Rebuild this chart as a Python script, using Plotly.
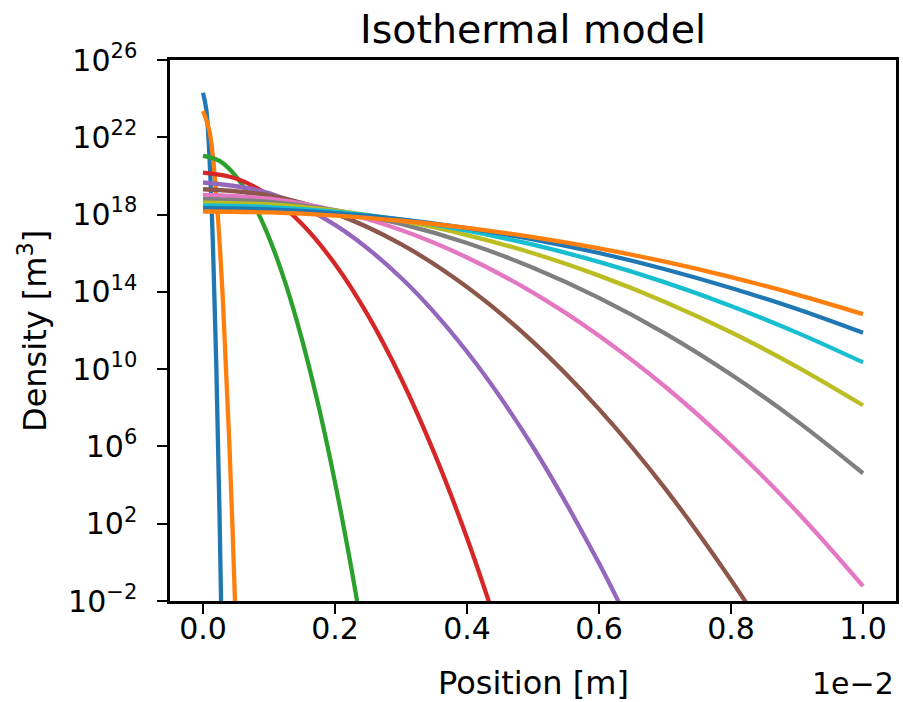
import plotly.graph_objects as go

# Position in units of 1e-2 m ; density given as log10 of value in m^-3
x_b1 = [0.0, 0.005, 0.010, 0.015, 0.020, 0.025, 0.030]
y_b1 = [24.31, 23.44, 20.83, 16.48, 10.39, 2.57, -7.0]

x_o1 = [0.0, 0.01, 0.02, 0.03, 0.04, 0.05, 0.055]
y_o1 = [23.36, 22.28, 19.05, 13.66, 6.11, -3.59, -9.3]

x_green = [0.0, 0.025, 0.05, 0.075, 0.1, 0.125, 0.15, 0.175, 0.2, 0.225, 0.25]
y_green = [21.04, 20.78, 19.98, 18.66, 16.81, 14.44, 11.53, 8.10, 4.14, -0.35, -5.37]

x_red = [0.0, 0.05, 0.1, 0.15, 0.2, 0.25, 0.3, 0.35, 0.4, 0.45]
y_red = [20.17, 19.87, 18.99, 17.51, 15.44, 12.78, 9.53, 5.69, 1.26, -3.77]

x_purple = [0.0, 0.1, 0.2, 0.3, 0.4, 0.5, 0.6, 0.65]
y_purple = [19.66, 19.11, 17.47, 14.73, 10.90, 5.97, -0.05, -3.47]

x_brown = [0.0, 0.1, 0.2, 0.3, 0.4, 0.5, 0.6, 0.7, 0.8, 0.85]
y_brown = [19.31, 18.99, 18.05, 16.47, 14.25, 11.41, 7.93, 3.83, -0.91, -3.52]

x_full = [0.0, 0.1, 0.2, 0.3, 0.4, 0.5, 0.6, 0.7, 0.8, 0.9, 1.0]
y_pink = [19.02, 18.82, 18.21, 17.20, 15.78, 13.96, 11.73, 9.10, 6.06, 2.62, -1.23]
y_gray = [18.80, 18.66, 18.23, 17.52, 16.53, 15.25, 13.69, 11.85, 9.72, 7.31, 4.61]
y_olive = [18.62, 18.52, 18.20, 17.68, 16.94, 16.00, 14.84, 13.48, 11.91, 10.12, 8.13]
y_cyan = [18.47, 18.39, 18.15, 17.74, 17.17, 16.44, 15.55, 14.49, 13.27, 11.89, 10.35]
y_b2 = [18.33, 18.27, 18.07, 17.75, 17.30, 16.72, 16.01, 15.17, 14.20, 13.11, 11.88]
y_o2 = [18.16, 18.11, 17.95, 17.68, 17.31, 16.83, 16.25, 15.56, 14.76, 13.86, 12.85]

y_tick_exp = [-2, 2, 6, 10, 14, 18, 22, 26]

series = [
    (x_b1, y_b1, "#1f77b4"),
    (x_o1, y_o1, "#ff7f0e"),
    (x_green, y_green, "#2ca02c"),
    (x_red, y_red, "#d62728"),
    (x_purple, y_purple, "#9467bd"),
    (x_brown, y_brown, "#8c564b"),
    (x_full, y_pink, "#e377c2"),
    (x_full, y_gray, "#7f7f7f"),
    (x_full, y_olive, "#bcbd22"),
    (x_full, y_cyan, "#17becf"),
    (x_full, y_b2, "#1f77b4"),
    (x_full, y_o2, "#ff7f0e"),
]

fig = go.Figure()
for xs, ls, col in series:
    fig.add_trace(go.Scatter(
        x=xs, y=[10 ** v for v in ls], mode="lines",
        line=dict(color=col, width=4.3, shape="spline", smoothing=1.0),
        hoverinfo="skip", showlegend=False))

FONT = "DejaVu Sans"
fig.update_layout(
    width=903, height=702,
    margin=dict(l=170, r=7, t=60, b=101, autoexpand=False),
    plot_bgcolor="white", paper_bgcolor="white",
    font=dict(family=FONT, color="black", size=30),
    showlegend=False,
    title=dict(text="Isothermal model", font=dict(size=39.5, family=FONT, color="black"),
               x=0.5, xref="paper", xanchor="center",
               y=1 - 29 / 702, yref="container", yanchor="middle"),
)
fig.update_xaxes(
    range=[-0.05, 1.05], tick0=0, dtick=0.2, tickformat=".1f",
    showline=True, mirror=True, linecolor="black", linewidth=2.5,
    ticks="outside", ticklen=10, tickwidth=2, tickcolor="black",
    ticklabelstandoff=-11,
    showgrid=False, zeroline=False, tickfont=dict(size=30, family=FONT),
)
fig.update_yaxes(
    type="log", range=[-2, 26],
    tickmode="array", tickvals=[10.0 ** e for e in y_tick_exp],
    ticktext=["10<sup>%s</sup>" % (str(e).replace("-", "\u2212")) for e in y_tick_exp],
    showline=True, mirror=True, linecolor="black", linewidth=2.5,
    ticks="outside", ticklen=10, tickwidth=2, tickcolor="black",
    ticklabelstandoff=14,
    showgrid=False, zeroline=False, tickfont=dict(size=30, family=FONT),
)

fig.add_annotation(text="Position [m]", xref="paper", yref="paper",
                   x=0.5, y=(601 - 683) / 541, xanchor="center", yanchor="middle",
                   showarrow=False, font=dict(size=32, family=FONT))
fig.add_annotation(text="1e\u22122", xref="paper", yref="paper",
                   x=1.0, y=(601 - 683) / 541, xanchor="right", yanchor="middle",
                   showarrow=False, font=dict(size=30, family=FONT))
fig.add_annotation(text="Density [m<sup>3</sup>]", xref="paper", yref="paper",
                   x=(33 - 170) / 726, y=(601 - 331) / 541, xanchor="center", yanchor="middle",
                   textangle=-90, showarrow=False, font=dict(size=32, family=FONT))

fig.write_html("out.html", config={"displayModeBar": False},
               post_script="document.body.style.margin='0px';")
